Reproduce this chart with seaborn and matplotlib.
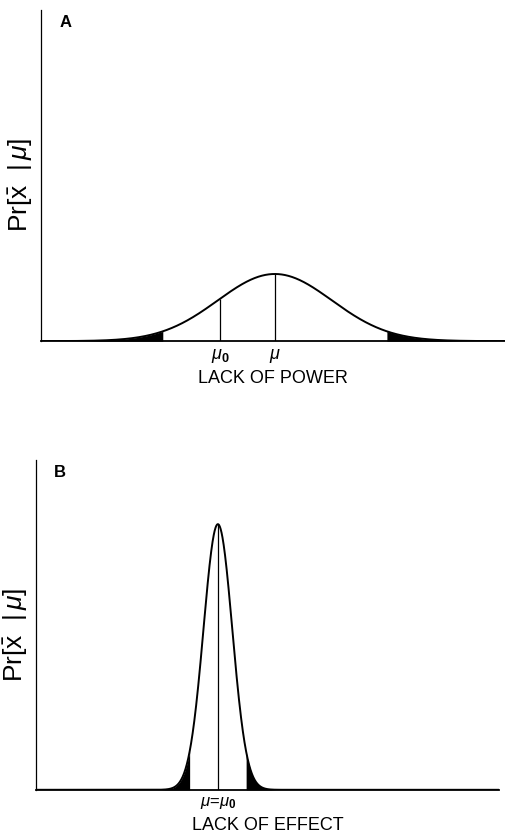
import numpy as np
import matplotlib
matplotlib.use("Agg")
import matplotlib.pyplot as plt
import seaborn as sns

# panel values (x axis runs 0..10, y axis 0..1.6)
panels = ["A", "B"]
true_means = [5.04, 3.93]      # mu
null_means = [3.86, 3.93]      # mu_0
sds = [1.23, 0.31]
z_crit = 1.96
xlabels = ["LACK OF POWER", "LACK OF EFFECT"]
tick_labels = [[r"$\mu_\mathbf{0}$", r"$\mu$"], [r"$\mu$=$\mu_\mathbf{0}$"]]

sns.set_style("ticks")
plt.rcParams['font.family'] = ['Liberation Sans', 'DejaVu Sans']
plt.rcParams['mathtext.fontset'] = 'custom'
plt.rcParams['mathtext.rm'] = 'Liberation Sans'
plt.rcParams['mathtext.it'] = 'Liberation Sans:italic'
plt.rcParams['mathtext.bf'] = 'Liberation Sans:bold'
plt.rcParams['text.color'] = 'black'
plt.rcParams['axes.labelcolor'] = 'black'
plt.rcParams['xtick.color'] = 'black'
plt.rcParams['axes.edgecolor'] = 'black'

fig = plt.figure(figsize=(5.06, 8.34), dpi=100)
axes = [fig.add_axes([0.081, 0.591, 0.917, 0.397]),
        fig.add_axes([0.071, 0.053, 0.915, 0.396])]

x = np.linspace(0, 10, 2001)

for i, ax in enumerate(axes):
    m, s, m0 = true_means[i], sds[i], null_means[i]
    y = np.exp(-0.5 * ((x - m) / s) ** 2) / (s * np.sqrt(2 * np.pi))
    sns.lineplot(x=x, y=y, ax=ax, color="black", linewidth=1.4)

    # shaded tails beyond +-1.96 sd
    lo, hi = m - z_crit * s, m + z_crit * s
    ax.fill_between(x, 0, y, where=x <= lo, color="black", lw=0)
    ax.fill_between(x, 0, y, where=x >= hi, color="black", lw=0)

    pdf = lambda v: np.exp(-0.5 * ((v - m) / s) ** 2) / (s * np.sqrt(2 * np.pi))
    if i == 0:
        ax.vlines([m0, m], 0, [pdf(m0), pdf(m)], color="black", lw=0.9)
        ax.set_xticks([m0, m])
        ax.set_xticklabels(tick_labels[i], fontsize=13)
    else:
        ax.vlines([m], 0, [pdf(m)], color="black", lw=0.9)
        ax.set_xticks([m])
        ax.set_xticklabels(tick_labels[i], fontsize=12)
    ax.tick_params(axis="x", length=0, pad=4)
    ax.set_yticks([])

    ax.set_xlim(0, 10)
    ax.set_ylim(0, 1.6)
    sns.despine(ax=ax)
    ax.spines["left"].set_linewidth(0.9)
    ax.spines["bottom"].set_linewidth(1.3)

    ax.set_xlabel(xlabels[i], fontsize=13, labelpad=4)
    ax.set_ylabel(r"Pr[$\bar{\mathrm{x}}\ \ |\,\mu$]", fontsize=19)
    ax.yaxis.set_label_coords(-0.016, 0.47)
    ax.text(0.052, 0.962, panels[i], transform=ax.transAxes, fontsize=12,
            fontweight="bold", ha="center", va="center")

fig.savefig("out.png", dpi=100)
